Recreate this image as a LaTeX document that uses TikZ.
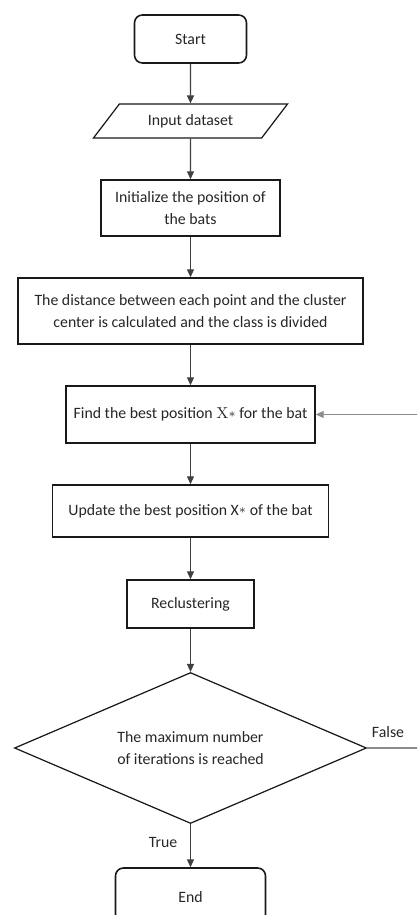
\documentclass[tikz,border=0pt]{standalone}
\usepackage{fontspec}
\setsansfont{Carlito}
\usetikzlibrary{shapes.geometric,arrows.meta}
\begin{document}
\begin{tikzpicture}[x=0.02cm,y=-0.02cm,
  every node/.style={font=\sffamily\fontsize{9}{12.5}\selectfont, text=black!85},
  box/.style 2 args={draw=black!90, line width=0.9pt, minimum width=#1*0.02cm, minimum height=#2*0.02cm, inner sep=0pt, align=center},
  rbox/.style 2 args={box={#1}{#2}, rounded corners=4.5pt},
  arr/.style={draw=black!75, line width=0.6pt, -{Triangle[length=4.5pt,width=4pt]}},
  lbl/.style={font=\sffamily\fontsize{9}{12}\selectfont}]
\useasboundingbox (0,0) rectangle (417,915);
\clip (0,0) rectangle (417,915);
\node[rbox={112}{48}] (start) at (190.5,39) {Start};
\node[draw=black!90, line width=0.7pt, shape=trapezium, trapezium left angle=41, trapezium right angle=139,
  trapezium stretches=true, minimum width=195*0.02cm, minimum height=34*0.02cm, inner sep=0pt] (input) at (190.5,121) {Input dataset};
\node[box={179}{56}] (init) at (190.5,208) {Initialize the position of\\the bats};
\node[box={345}{66}] (dist) at (190.5,311) {The distance between each point and the cluster\\center is calculated and the class is divided};
\node[box={249}{57}] (find) at (190.5,414.5) {Find the best position {\rmfamily X}\raisebox{0.2ex}{\scriptsize$\ast$} for the bat};
\node[box={276}{52}] (update) at (190.5,511) {Update the best position X\raisebox{0.2ex}{\scriptsize$\ast$} of the bat};
\node[box={127}{48}] (recl) at (190.5,604) {Reclustering};
\node[draw=black!90, line width=0.7pt, shape=diamond, aspect=2.33, minimum width=352*0.02cm, minimum height=151*0.02cm, inner sep=0pt, align=center] (dia) at (190.5,748) {The maximum number\\of iterations is reached};
\node[rbox={150}{60}] (end) at (190.5,898) {};
\node (endtxt) at (190.5,897) {End};
\coordinate (rt) at (445,0);
\draw[arr] (start) -- (input);
\draw[arr] (input) -- (init);
\draw[arr] (init) -- (dist);
\draw[arr] (dist) -- (find);
\draw[arr] (find) -- (update);
\draw[arr] (update) -- (recl);
\draw[arr] (recl) -- (dia);
\draw[arr] (dia) -- (end);
\draw[arr, draw=black!45] (dia.east) -- (dia.east -| rt) |- (find.east);
\node[lbl] (false) at (388,732) {False};
\node[lbl] (true) at (163,842) {True};
\end{tikzpicture}
\end{document}
